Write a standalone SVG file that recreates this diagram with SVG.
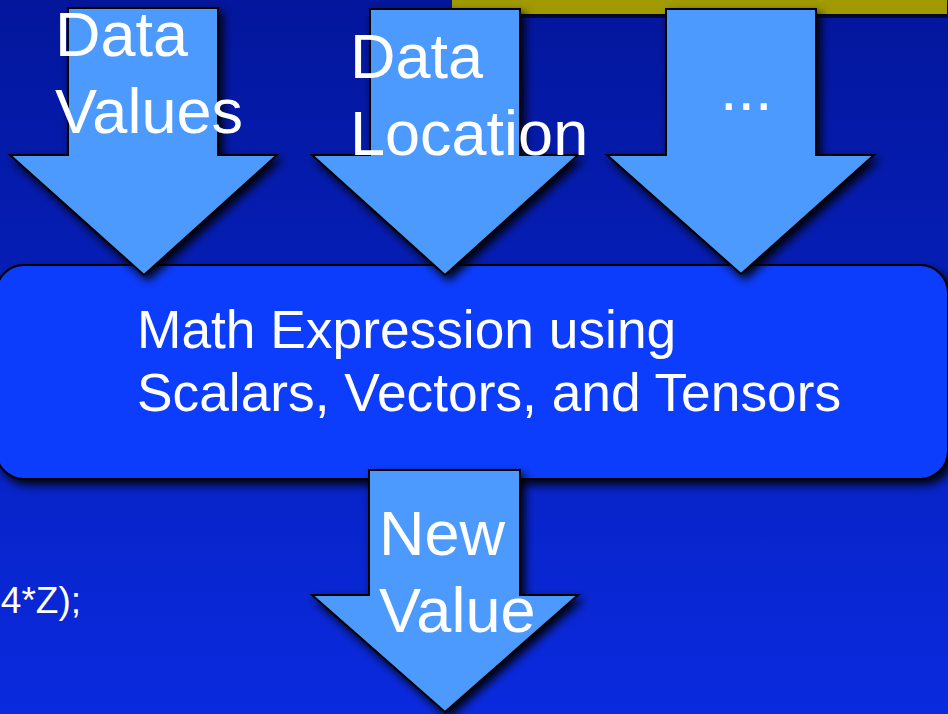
<svg xmlns="http://www.w3.org/2000/svg" width="948" height="714" viewBox="0 0 948 714">
  <defs>
    <linearGradient id="bg" x1="0" y1="0" x2="0" y2="1">
      <stop offset="0" stop-color="#03169c"/>
      <stop offset="1" stop-color="#0a2ade"/>
    </linearGradient>
    <filter id="shadow" x="-20%" y="-20%" width="140%" height="140%">
      <feDropShadow dx="4" dy="5" stdDeviation="5" flood-color="#000" flood-opacity="0.95"/>
    </filter>
    <style>
      .arrow { fill: #4e9aff; stroke: #000; stroke-width: 2; stroke-linejoin: miter; filter: url(#shadow); }
      .box { fill: #0b3cfc; stroke: #000; stroke-width: 2; filter: url(#shadow); }
      .lbl { font-family: "Liberation Sans", Arial, Helvetica, sans-serif; fill: #fff; }
      .big { font-size: 63px; }
      .mid { font-size: 53.3px; }
      .code { font-size: 37px; }
    </style>
  </defs>

  <rect x="0" y="0" width="948" height="714" fill="url(#bg)"/>
  <rect x="452" y="-2" width="495" height="16" fill="#a09a00" filter="url(#shadow)"/>

  <text class="lbl code" x="81" y="613" text-anchor="end">4*Z);</text>

  <g id="connectors"></g>

  <g id="math-expression">
    <rect class="box" x="-4" y="265" width="952" height="214" rx="28" ry="28"/>
    <text class="lbl mid" x="137" y="348">Math Expression using</text>
    <text class="lbl mid" x="137" y="411">Scalars, Vectors, and Tensors</text>
  </g>

  <g id="data-values">
    <polygon class="arrow" points="68,8 218,8 218,155 277,155 144,275 10,155 68,155"/>
    <text class="lbl big" x="55" y="56">Data</text>
    <text class="lbl big" x="55" y="133">Values</text>
  </g>

  <g id="data-location">
    <polygon class="arrow" points="370,9 520,9 520,155 578,155 445,275 312,155 370,155"/>
    <text class="lbl big" x="350" y="78">Data</text>
    <text class="lbl big" x="350" y="155">Location</text>
  </g>

  <g id="more-inputs">
    <polygon class="arrow" points="666,9 816,9 816,155 874,155 741,274 607,155 666,155"/>
    <text class="lbl big" x="720" y="110">...</text>
  </g>

  <g id="new-value">
    <polygon class="arrow" points="369,470 520,470 520,595 578,595 445,712 312,595 369,595"/>
    <text class="lbl big" x="379" y="555">New</text>
    <text class="lbl big" x="379" y="632">Value</text>
  </g>
</svg>
